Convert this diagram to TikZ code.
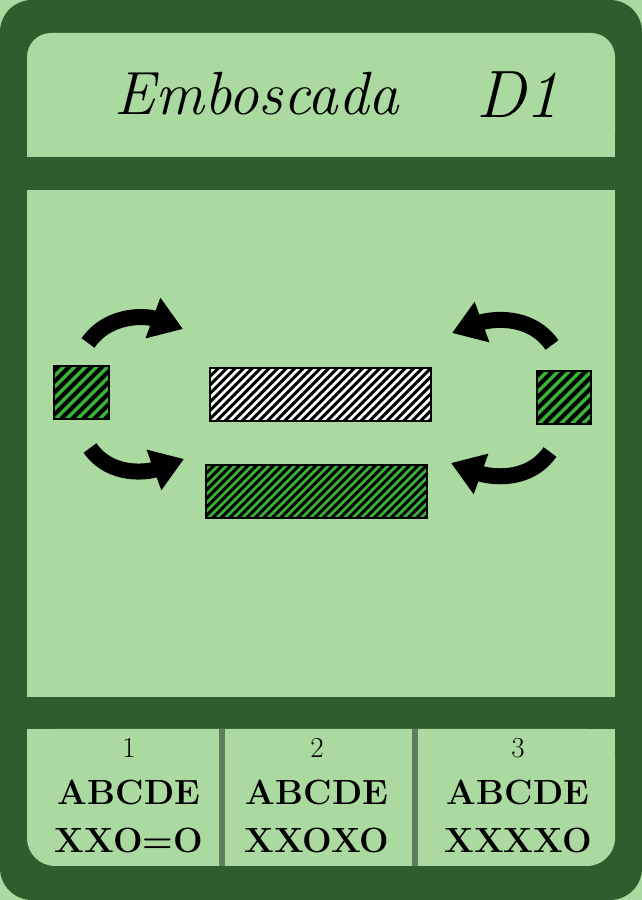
\documentclass[tikz,border=0pt]{standalone}
\usepackage{fontspec}
\usepackage{tikz}
\usetikzlibrary{positioning}
\usetikzlibrary{arrows.meta}

\definecolor{cardgreen}{RGB}{46,94,44}
\definecolor{panelgreen}{RGB}{170,218,160}
\definecolor{gapgray}{RGB}{95,125,92}
\definecolor{stripegreen}{RGB}{58,178,58}

\tikzset{
  hatchbox/.style 2 args={draw=black, line width=1.5pt, fill=#1, inner sep=0pt,
    path picture={
      \foreach \k in {0,...,50}
        \draw[line width=0.36*#2pt] ([xshift=\k*#2pt-70pt]path picture bounding box.south west) -- ++(80pt,80pt);
    }},
  bigarrow/.style={line width=16pt, -{Triangle[length=32pt,width=41pt]}},
  titletext/.style={font=\fontsize{61}{64}\selectfont\itshape},
  numtext/.style={font=\fontsize{29}{30}\selectfont},
  codetext/.style={font=\fontsize{35}{36}\selectfont\bfseries}
}

\begin{document}
\begin{tikzpicture}[x=1pt,y=1pt]
\useasboundingbox (0,0) rectangle (642,900);

% card
\fill[panelgreen] (0,0) rectangle (642,900);
\fill[cardgreen, rounded corners=32pt] (0,0) rectangle (642,900);

% panels
\fill[panelgreen, rounded corners=24pt] (27,743) rectangle (615,867);
\fill[panelgreen] (27,743) rectangle (615,800);
\fill[panelgreen] (27,203) rectangle (615,710);
\fill[panelgreen, rounded corners=28pt] (27,34) rectangle (615,171);
\fill[panelgreen] (27,100) rectangle (615,171);
\fill[gapgray] (219,34) rectangle (225,171);
\fill[gapgray] (412,34) rectangle (418,171);

% title
\node[titletext, anchor=base] (title) at (257,785) {Emboscada};
\node[titletext, anchor=base, font=\fontsize{67}{70}\selectfont\itshape] (code) at (518,782) {D1};

% boxes
\node[hatchbox={stripegreen}{11}, minimum width=55pt, minimum height=53pt] (lsq) at (81.5,507.5) {};
\node[hatchbox={stripegreen}{11}, minimum width=54pt, minimum height=53pt] (rsq) at (564,502.5) {};
\node[hatchbox={white}{8.5}, minimum width=221pt, minimum height=53pt] (wbar) at (320.5,505.5) {};
\node[hatchbox={stripegreen}{8.5}, minimum width=221pt, minimum height=53pt] (gbar) at (316.5,408.5) {};

% arrows
\coordinate (ul1) at (88,557);
\coordinate (ul2) at (183,571);
\coordinate (ll1) at (90,452);
\coordinate (ll2) at (184,441);
\coordinate (ur1) at (552,555);
\coordinate (ur2) at (452,567);
\coordinate (lr1) at (550,448);
\coordinate (lr2) at (451,437);
\draw[bigarrow] (ul1) to[out=55,in=160] (ul2);
\draw[bigarrow] (ll1) to[out=-55,in=200] (ll2);
\draw[bigarrow] (ur1) to[out=125,in=20] (ur2);
\draw[bigarrow] (lr1) to[out=235,in=-20] (lr2);

% results
\node[numtext, anchor=base] (n1) at (129,142) {1};
\node[numtext, anchor=base] (n2) at (317,142) {2};
\node[numtext, anchor=base] (n3) at (518,142) {3};
\node[codetext, anchor=base] (k1) at (129,95) {ABCDE};
\node[codetext, anchor=base] (k2) at (317,95) {ABCDE};
\node[codetext, anchor=base] (k3) at (518,95) {ABCDE};
\node[codetext, anchor=base] (r1) at (129,47) {XXO=O};
\node[codetext, anchor=base] (r2) at (317,47) {XXOXO};
\node[codetext, anchor=base] (r3) at (518,47) {XXXXO};
\end{tikzpicture}
\end{document}
